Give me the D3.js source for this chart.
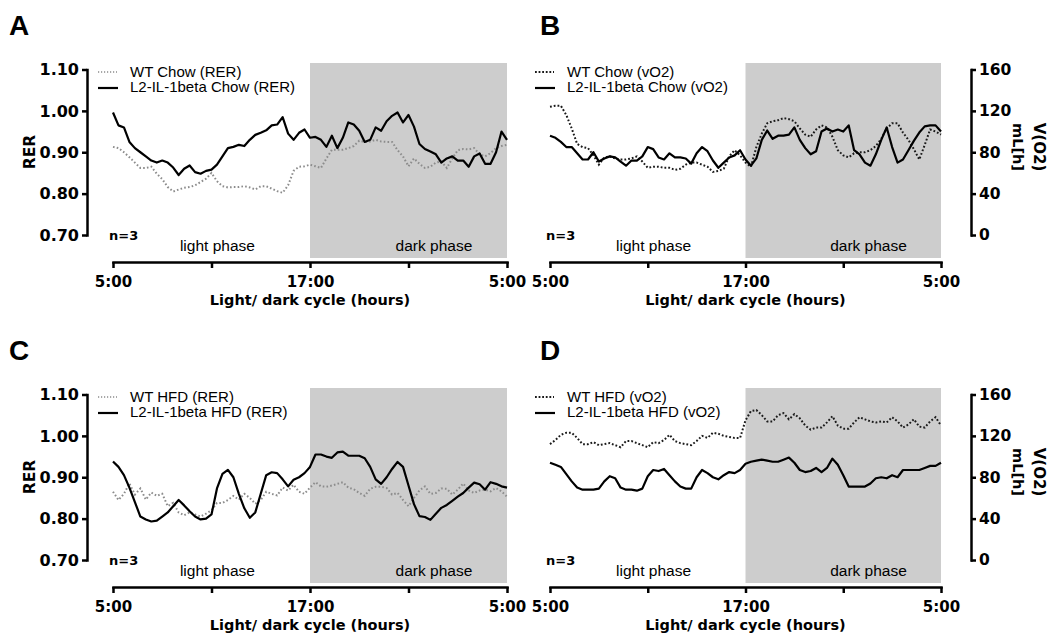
<!DOCTYPE html>
<html>
<head>
<meta charset="utf-8">
<script src="https://cdn.jsdelivr.net/npm/d3@7"></script>
<style>
body { margin: 0; background: #fff; }
</style>
</head>
<body>
<svg id="fig" width="1047" height="635"></svg>
<script>
// time grid: one reading every 20 min over the 24 h cycle (5:00 -> 5:00)
var hours = d3.range(73).map(function(i) { return i / 3; });
var xTickHours = [0, 6, 12, 18, 24];
var xTickLabels = ["5:00", "", "17:00", "", "5:00"];

var rerTicks = [0.70, 0.80, 0.90, 1.00, 1.10];
var vo2Ticks = [0, 40, 80, 120, 160];

// A - chow, RER
var rerChowWT = [0.913,0.91,0.90,0.888,0.875,0.862,0.862,0.865,0.848,0.835,
	0.816,0.805,0.81,0.814,0.816,0.82,0.828,0.836,0.85,0.83,
	0.818,0.815,0.816,0.816,0.818,0.815,0.81,0.818,0.818,0.812,
	0.806,0.802,0.82,0.855,0.865,0.866,0.87,0.866,0.862,0.885,
	0.906,0.906,0.906,0.91,0.915,0.928,0.925,0.926,0.93,0.926,
	0.925,0.925,0.905,0.89,0.866,0.885,0.872,0.862,0.865,0.875,
	0.878,0.862,0.885,0.905,0.908,0.907,0.91,0.895,0.89,0.898,
	0.91,0.915,0.918];
var rerChowKO = [0.996,0.965,0.96,0.925,0.91,0.90,0.89,0.88,0.875,0.88,
	0.875,0.863,0.845,0.86,0.868,0.852,0.848,0.855,0.858,0.87,
	0.89,0.91,0.913,0.918,0.915,0.93,0.942,0.947,0.953,0.965,
	0.967,0.985,0.945,0.93,0.947,0.955,0.935,0.937,0.93,0.913,
	0.94,0.91,0.935,0.972,0.967,0.952,0.925,0.93,0.96,0.952,
	0.975,0.988,0.996,0.972,0.99,0.962,0.92,0.908,0.902,0.895,
	0.875,0.885,0.89,0.88,0.88,0.865,0.89,0.897,0.872,0.872,
	0.90,0.95,0.93];

// B - chow, vO2
var vo2ChowWT = [124,125,125,116,103,88,85,84,77,68,
	75,76,74,73,73,74,76,71,65,66,
	66,65,65,63,64,68,70,70,68,66,
	61,62,64,76,82,77,70,66,85,98,
	108,110,111,113,112,110,103,97,95,102,
	106,104,95,82,77,75,79,80,80,82,
	86,93,103,108,108,99,92,83,73,87,
	102,100,97];
var vo2ChowKO = [96,94,90,85,85,79,73,73,80,71,
	74,76,75,71,67,72,72,76,85,83,
	75,73,79,75,75,74,69,79,85,81,
	72,65,70,75,77,82,73,67,74,92,
	101,93,96,96,97,104,92,84,78,81,
	100,103,100,102,100,106,82,78,70,67,
	78,92,104,85,70,73,82,91,99,105,
	106,106,100];

// C - HFD, RER
var rerHfdWT = [0.865,0.845,0.86,0.885,0.858,0.873,0.846,0.863,0.855,0.86,
	0.83,0.838,0.815,0.808,0.815,0.81,0.805,0.812,0.82,0.838,
	0.838,0.845,0.855,0.846,0.86,0.85,0.836,0.845,0.865,0.86,
	0.856,0.875,0.868,0.882,0.865,0.86,0.875,0.888,0.878,0.877,
	0.88,0.884,0.888,0.875,0.871,0.862,0.855,0.872,0.877,0.877,
	0.874,0.858,0.862,0.845,0.83,0.85,0.868,0.878,0.86,0.862,
	0.873,0.872,0.858,0.87,0.885,0.868,0.862,0.868,0.87,0.866,
	0.874,0.866,0.853];
var rerHfdKO = [0.938,0.925,0.905,0.875,0.84,0.805,0.798,0.793,0.795,0.805,
	0.815,0.83,0.845,0.832,0.818,0.805,0.798,0.8,0.81,0.873,
	0.908,0.918,0.9,0.86,0.825,0.802,0.815,0.86,0.905,0.912,
	0.91,0.895,0.878,0.894,0.90,0.91,0.925,0.955,0.955,0.95,
	0.947,0.96,0.962,0.952,0.952,0.952,0.946,0.925,0.895,0.884,
	0.9,0.92,0.937,0.925,0.88,0.835,0.806,0.804,0.797,0.812,
	0.826,0.833,0.843,0.853,0.862,0.875,0.887,0.883,0.87,0.888,
	0.884,0.878,0.875];

// D - HFD, vO2
var vo2HfdWT = [112,116,121,123,123,118,112,112,114,111,
	112,113,111,109,115,115,113,111,109,114,
	113,116,121,115,113,112,111,115,120,118,
	123,122,120,119,118,118,135,144,145,140,
	134,134,140,142,136,141,137,130,126,128,
	128,133,139,130,127,127,133,138,136,134,
	133,134,133,138,134,128,131,136,129,128,
	134,138,130];
var vo2HfdKO = [94,92,90,83,76,70,68,68,68,69,
	76,81,79,70,68,68,67,69,81,87,
	86,88,82,76,71,69,69,80,87,84,
	80,78,82,85,84,87,93,95,96,97,
	96,95,95,97,99,94,87,85,86,89,
	85,89,98,92,82,71,71,71,71,74,
	79,80,79,82,80,87,87,87,87,89,
	91,91,94];

var boldFont = "'DejaVu Sans', Verdana, sans-serif";
var plainFont = "'Liberation Sans', Arial, Helvetica, sans-serif";

var panels = [
	{letter: "A", x0: 113, x1: 507, dy: 0, rer: true, wt: rerChowWT, ko: rerChowKO,
		legend: ["WT Chow (RER)", "L2-IL-1beta Chow (RER)"]},
	{letter: "B", x0: 550, x1: 941, dy: 0, rer: false, wt: vo2ChowWT, ko: vo2ChowKO,
		legend: ["WT Chow (vO2)", "L2-IL-1beta Chow (vO2)"]},
	{letter: "C", x0: 113, x1: 507, dy: 325, rer: true, wt: rerHfdWT, ko: rerHfdKO,
		legend: ["WT HFD (RER)", "L2-IL-1beta HFD (RER)"]},
	{letter: "D", x0: 550, x1: 941, dy: 325, rer: false, wt: vo2HfdWT, ko: vo2HfdKO,
		legend: ["WT HFD (vO2)", "L2-IL-1beta HFD (vO2)"]}
];

var svg = d3.select("#fig");
panels.forEach(drawPanel);

function styleAxis(sel) {
	sel.select(".domain").attr("stroke", "#000").attr("stroke-width", 2.5).attr("stroke-linecap", "square");
	sel.selectAll(".tick line").attr("stroke", "#000").attr("stroke-width", 2.5);
	sel.selectAll("text")
		.style("font-family", boldFont)
		.style("font-weight", "bold")
		.attr("fill", "#000");
}

function drawPanel(p) {
	var g = svg.append("g").attr("transform", "translate(0," + p.dy + ")");

	var x = d3.scaleLinear().domain([0, 24]).range([p.x0, p.x1]);
	var y = p.rer
		? d3.scaleLinear().domain([0.70, 1.10]).range([235, 69.5])
		: d3.scaleLinear().domain([0, 160]).range([235, 69.5]);

	// dark phase shading
	g.append("rect")
		.attr("x", x(12))
		.attr("y", 63)
		.attr("width", x(24) - x(12))
		.attr("height", 258 - 63)
		.attr("fill", "#cdcdcd");

	var line = d3.line()
		.x(function(d, i) { return x(hours[i]); })
		.y(function(d) { return y(d); });

	var wtColor = p.rer ? "#8c8c8c" : "#1a1a1a";
	var wtDash = p.rer ? "1.6,2.2" : "1.8,2";

	g.append("path")
		.datum(p.wt)
		.attr("d", line)
		.attr("fill", "none")
		.attr("stroke", wtColor)
		.attr("stroke-width", 2)
		.attr("stroke-dasharray", wtDash);

	g.append("path")
		.datum(p.ko)
		.attr("d", line)
		.attr("fill", "none")
		.attr("stroke", "#000")
		.attr("stroke-width", 2.2)
		.attr("stroke-linejoin", "round");

	// y axis (offset from plot, Prism style)
	var yAxis = p.rer
		? d3.axisLeft(y).tickValues(rerTicks).tickFormat(d3.format(".2f"))
		: d3.axisRight(y).tickValues(vo2Ticks).tickFormat(d3.format("d"));
	yAxis.tickSize(5).tickSizeOuter(0).tickPadding(3);
	var ya = g.append("g")
		.attr("transform", "translate(" + (p.rer ? 87 : 971) + ",0)")
		.call(yAxis)
		.call(styleAxis);
	ya.selectAll("text").style("font-size", p.rer ? "16px" : "15.5px");

	// x axis
	var xAxis = d3.axisBottom(x)
		.tickValues(xTickHours)
		.tickFormat(function(d, i) { return xTickLabels[i]; })
		.tickSize(6)
		.tickSizeOuter(0);
	var xa = g.append("g")
		.attr("transform", "translate(0,262)")
		.call(xAxis)
		.call(styleAxis);
	xa.selectAll("text")
		.attr("y", 25)
		.attr("dy", 0)
		.style("font-size", "15px");

	g.append("text")
		.attr("x", (p.x0 + p.x1) / 2)
		.attr("y", 305)
		.attr("text-anchor", "middle")
		.style("font-family", boldFont)
		.style("font-weight", "bold")
		.style("font-size", "14.5px")
		.text("Light/ dark cycle (hours)");

	// y titles
	if (p.rer) {
		g.append("text")
			.attr("transform", "translate(35,152) rotate(-90)")
			.attr("text-anchor", "middle")
			.style("font-family", boldFont)
			.style("font-weight", "bold")
			.style("font-size", "15.5px")
			.text("RER");
	} else {
		g.append("text")
			.attr("transform", "translate(1034,147) rotate(90)")
			.attr("text-anchor", "middle")
			.style("font-family", boldFont)
			.style("font-weight", "bold")
			.style("font-size", "15px")
			.text("V(O2)");
		g.append("text")
			.attr("transform", "translate(1013,147) rotate(90)")
			.attr("text-anchor", "middle")
			.style("font-family", boldFont)
			.style("font-weight", "bold")
			.style("font-size", "14.5px")
			.text("mL[h]");
	}

	// phase labels and n
	g.append("text")
		.attr("x", x(6.36)).attr("y", 251)
		.attr("text-anchor", "middle")
		.style("font-family", plainFont).style("font-size", "15.5px")
		.text("light phase");
	g.append("text")
		.attr("x", x(19.55)).attr("y", 251)
		.attr("text-anchor", "middle")
		.style("font-family", plainFont).style("font-size", "15.5px")
		.text("dark phase");
	g.append("text")
		.attr("x", p.x0 - 4).attr("y", 240)
		.style("font-family", boldFont).style("font-weight", "bold").style("font-size", "13px")
		.text("n=3");

	// legend
	var lg = g.append("g");
	lg.append("line")
		.attr("x1", p.x0 - 15).attr("x2", p.x0 + 4)
		.attr("y1", 72).attr("y2", 72)
		.attr("stroke", wtColor)
		.attr("stroke-width", p.rer ? 1.4 : 1.8)
		.attr("stroke-dasharray", p.rer ? "1.2,1.8" : "1.8,1.8");
	lg.append("line")
		.attr("x1", p.x0 - 15).attr("x2", p.x0 + 5)
		.attr("y1", 88).attr("y2", 88)
		.attr("stroke", "#000")
		.attr("stroke-width", 2.2);
	lg.selectAll("text.leg")
		.data(p.legend)
		.enter().append("text")
		.attr("class", "leg")
		.attr("x", p.x0 + 17)
		.attr("y", function(d, i) { return 77 + i * 15; })
		.style("font-family", plainFont)
		.style("font-size", "15px")
		.text(function(d) { return d; });

	// panel letter
	g.append("text")
		.attr("x", p.rer ? 9 : 540)
		.attr("y", 35)
		.style("font-family", plainFont)
		.style("font-weight", "bold")
		.style("font-size", "28px")
		.text(p.letter);
}
</script>
</body>
</html>
